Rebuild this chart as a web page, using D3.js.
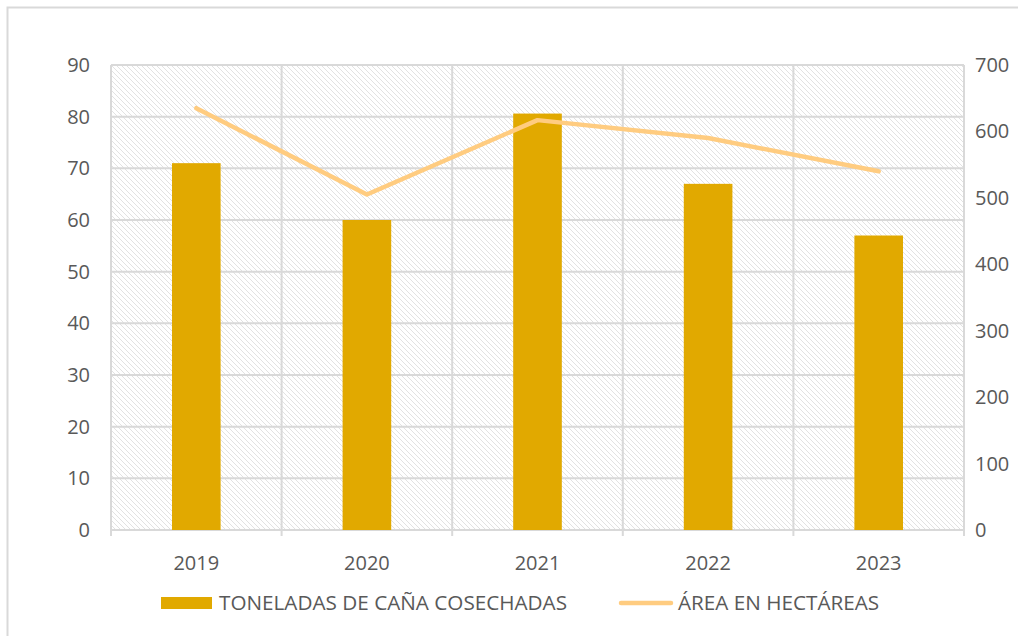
<!DOCTYPE html>
<html>
<head>
<meta charset="utf-8">
<script src="https://cdn.jsdelivr.net/npm/d3@7"></script>
<style>
  body { margin: 0; background: #fff; }
  text { font-family: "Open Sans", "Liberation Sans", sans-serif; fill: #595959; }
</style>
</head>
<body>
<div id="chart"></div>
<script>
const years = ["2019", "2020", "2021", "2022", "2023"];
const toneladas = [71, 60, 80.6, 67, 57];
const hectareas = [635, 505, 617, 590, 540];
const leftTicks = [0, 10, 20, 30, 40, 50, 60, 70, 80, 90];
const rightTicks = [0, 100, 200, 300, 400, 500, 600, 700];

const width = 1018, height = 636;
const margin = {top: 65, right: 54, bottom: 106, left: 111};
const innerW = width - margin.left - margin.right;
const innerH = height - margin.top - margin.bottom;
const fs = "20px";
const legendFs = "20.7px";

const svg = d3.select("#chart")
    .append("svg")
    .attr("width", width)
    .attr("height", height);

// hatch pattern for the plot area
const defs = svg.append("defs");
const pat = defs.append("pattern")
    .attr("id", "hatch")
    .attr("patternUnits", "userSpaceOnUse")
    .attr("width", 5)
    .attr("height", 5);
pat.append("rect").attr("width", 5).attr("height", 5).attr("fill", "#fff");
pat.append("path")
    .attr("d", "M-1,-1 L6,6 M-1,4 L1,6 M4,-1 L6,1")
    .attr("stroke", "#e2e2e2")
    .attr("stroke-width", 1);

// outer frame
svg.append("rect")
    .attr("x", 7.5).attr("y", 7.5)
    .attr("width", 1100).attr("height", 700)
    .attr("fill", "none")
    .attr("stroke", "#d9d9d9")
    .attr("stroke-width", 2);

const g = svg.append("g")
    .attr("transform", `translate(${margin.left},${margin.top})`);

const x = d3.scaleBand().domain(years).range([0, innerW]).paddingInner(0).paddingOuter(0);
const yL = d3.scaleLinear().domain([0, 90]).range([innerH, 0]);
const yR = d3.scaleLinear().domain([0, 700]).range([innerH, 0]);

g.append("rect")
    .attr("width", innerW).attr("height", innerH)
    .attr("fill", "url(#hatch)");

// horizontal gridlines
g.append("g")
    .selectAll("line")
    .data(leftTicks)
    .enter().append("line")
    .attr("x1", 0).attr("x2", innerW)
    .attr("y1", d => yL(d)).attr("y2", d => yL(d))
    .attr("stroke", "#d9d9d9")
    .attr("stroke-width", 2);

// vertical gridlines at category boundaries
const bounds = years.map(d => x(d)).concat([innerW]);
g.append("g")
    .selectAll("line")
    .data(bounds)
    .enter().append("line")
    .attr("x1", d => d).attr("x2", d => d)
    .attr("y1", 0).attr("y2", innerH + 6)
    .attr("stroke", "#d9d9d9")
    .attr("stroke-width", 2);

// bars
const barW = x.bandwidth() * 0.285;
g.append("g")
    .selectAll("rect")
    .data(years)
    .enter().append("rect")
    .attr("x", d => x(d) + x.bandwidth() / 2 - barW / 2)
    .attr("y", (d, i) => yL(toneladas[i]))
    .attr("width", barW)
    .attr("height", (d, i) => innerH - yL(toneladas[i]))
    .attr("fill", "#E1A900");

// line
const line = d3.line()
    .x((d, i) => x(years[i]) + x.bandwidth() / 2)
    .y(d => yR(d));
g.append("path")
    .datum(hectareas)
    .attr("d", line)
    .attr("fill", "none")
    .attr("stroke", "#FFCC80")
    .attr("stroke-width", 4.5)
    .attr("stroke-linecap", "round")
    .attr("stroke-linejoin", "round");

// left axis labels
g.append("g")
    .selectAll("text")
    .data(leftTicks)
    .enter().append("text")
    .attr("x", -21)
    .attr("y", d => yL(d))
    .attr("dy", "0.35em")
    .attr("text-anchor", "end")
    .style("font-size", fs)
    .text(d => d);

// right axis labels
g.append("g")
    .selectAll("text")
    .data(rightTicks)
    .enter().append("text")
    .attr("x", innerW + 11)
    .attr("y", d => yR(d))
    .attr("dy", "0.35em")
    .attr("text-anchor", "start")
    .style("font-size", fs)
    .text(d => d);

// x labels
g.append("g")
    .selectAll("text")
    .data(years)
    .enter().append("text")
    .attr("x", d => x(d) + x.bandwidth() / 2)
    .attr("y", innerH + 33)
    .attr("dy", "0.35em")
    .attr("text-anchor", "middle")
    .style("font-size", fs)
    .text(d => d);

// legend
const legend = svg.append("g");
legend.append("rect")
    .attr("x", 161).attr("y", 597)
    .attr("width", 51).attr("height", 12)
    .attr("fill", "#E1A900");
legend.append("text")
    .attr("x", 219).attr("y", 603)
    .attr("dy", "0.35em")
    .style("font-size", legendFs)
    .text("TONELADAS DE CAÑA COSECHADAS");
legend.append("line")
    .attr("x1", 621).attr("x2", 671)
    .attr("y1", 603).attr("y2", 603)
    .attr("stroke", "#FFCC80")
    .attr("stroke-width", 4.5)
    .attr("stroke-linecap", "round");
legend.append("text")
    .attr("x", 678).attr("y", 603)
    .attr("dy", "0.35em")
    .style("font-size", legendFs)
    .text("ÁREA EN HECTÁREAS");
</script>
</body>
</html>
